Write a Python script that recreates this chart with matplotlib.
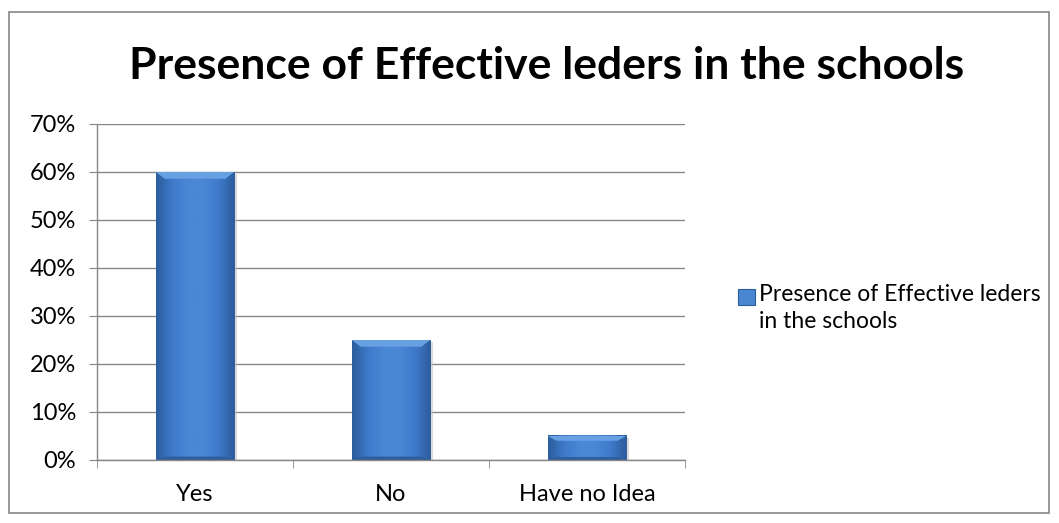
import numpy as np
import matplotlib.pyplot as plt
from matplotlib.patches import Rectangle, Polygon
from matplotlib.colors import LinearSegmentedColormap
from matplotlib.legend_handler import HandlerPatch

categories = ["Yes", "No", "Have no Idea"]
values = [0.60, 0.25, 0.05]
series_name = "Presence of Effective leders in the schools"
yticks = [0, 0.1, 0.2, 0.3, 0.4, 0.5, 0.6, 0.7]
ytick_labels = ["0%", "10%", "20%", "30%", "40%", "50%", "60%", "70%"]

plt.rcParams['font.family'] = ['Lato', 'DejaVu Sans']

fig = plt.figure(figsize=(10.59, 5.23), dpi=100)
# chart frame
fig.patches.append(Rectangle((9 / 1059, 10 / 523), 1040 / 1059, 501 / 523,
                             transform=fig.transFigure, fill=False,
                             edgecolor="#868686", lw=1.2))
fig.text(547 / 1059, 1 - 66 / 523, series_name, ha="center", va="center",
         fontsize=32, fontweight="bold", color="black")

ax = fig.add_axes([97 / 1059, 1 - 460 / 523, 588 / 1059, 336 / 523])
x = np.arange(len(categories))
width = 0.4
bars = ax.bar(x, values, width=width, color="#4a86d2", zorder=2)

# bevelled look: horizontal shading, lighter top edge, darker base
shade = LinearSegmentedColormap.from_list(
    "bevel", ["#2c5d9c", "#3f7acb", "#4a87d5", "#4a87d5", "#3f7acb", "#2c5d9c"])
grad = np.linspace(0, 1, 64).reshape(1, -1)
for b in bars:
    x0, y0 = b.get_x(), b.get_y()
    w, h = b.get_width(), b.get_height()
    # soft drop shadow
    ax.add_patch(Rectangle((x0 + 0.012, y0 - 0.004), w, h, color="#c4c4c4",
                           alpha=0.6, zorder=1.5, lw=0))
    ax.imshow(grad, extent=(x0, x0 + w, y0, y0 + h), aspect="auto",
              cmap=shade, zorder=2.1, interpolation="bicubic")
    top = min(0.014, h * 0.2)
    inset = 0.045
    ax.add_patch(Polygon([(x0, y0 + h), (x0 + w, y0 + h),
                          (x0 + w - inset, y0 + h - top), (x0 + inset, y0 + h - top)],
                         closed=True, color="#68a0e4", lw=0, zorder=2.2))
    base = min(0.007, h * 0.12)
    ax.add_patch(Polygon([(x0, y0), (x0 + w, y0),
                          (x0 + w - inset, y0 + base), (x0 + inset, y0 + base)],
                         closed=True, color="#2c5d9c", lw=0, zorder=2.2))

ax.set_xlim(-0.5, len(categories) - 0.5)
ax.set_ylim(0, 0.7)
ax.set_yticks(yticks)
ax.set_yticklabels(ytick_labels)
ax.set_xticks(x)
ax.set_xticklabels(categories)
ax.set_xticks(np.arange(len(categories) + 1) - 0.5, minor=True)
ax.tick_params(axis="x", which="major", length=0, pad=17, labelsize=17)
ax.tick_params(axis="x", which="minor", length=6, color="#868686", direction="out")
ax.tick_params(axis="y", length=6, color="#868686", direction="out",
               labelsize=17, pad=9)
ax.yaxis.grid(True, color="#868686", lw=1, zorder=0)
ax.set_axisbelow(True)
for side in ("top", "right"):
    ax.spines[side].set_visible(False)
for side in ("left", "bottom"):
    ax.spines[side].set_color("#868686")
    ax.spines[side].set_linewidth(1)


class GradientSquare(HandlerPatch):
    def create_artists(self, legend, orig_handle, xdescent, ydescent,
                       width, height, fontsize, trans):
        s = fontsize * 0.72
        r = Rectangle((-xdescent + width - s, -ydescent + height - s * 0.3), s, s,
                      facecolor="#4a86d2", edgecolor="#2c5d9c", lw=0.8,
                      transform=trans)
        return [r]


handle = Rectangle((0, 0), 1, 1, facecolor="#4a86d2")
leg = fig.legend([handle], ["Presence of Effective leders\nin the schools"],
                 loc="center left", bbox_to_anchor=(727 / 1059, 1 - 308 / 523),
                 frameon=False, handlelength=0.8, handletextpad=0.2,
                 borderaxespad=0, prop={"size": 16.5},
                 handler_map={Rectangle: GradientSquare()})
leg.get_texts()[0].set_linespacing(1.35)

fig.savefig("out.png", dpi=100)
